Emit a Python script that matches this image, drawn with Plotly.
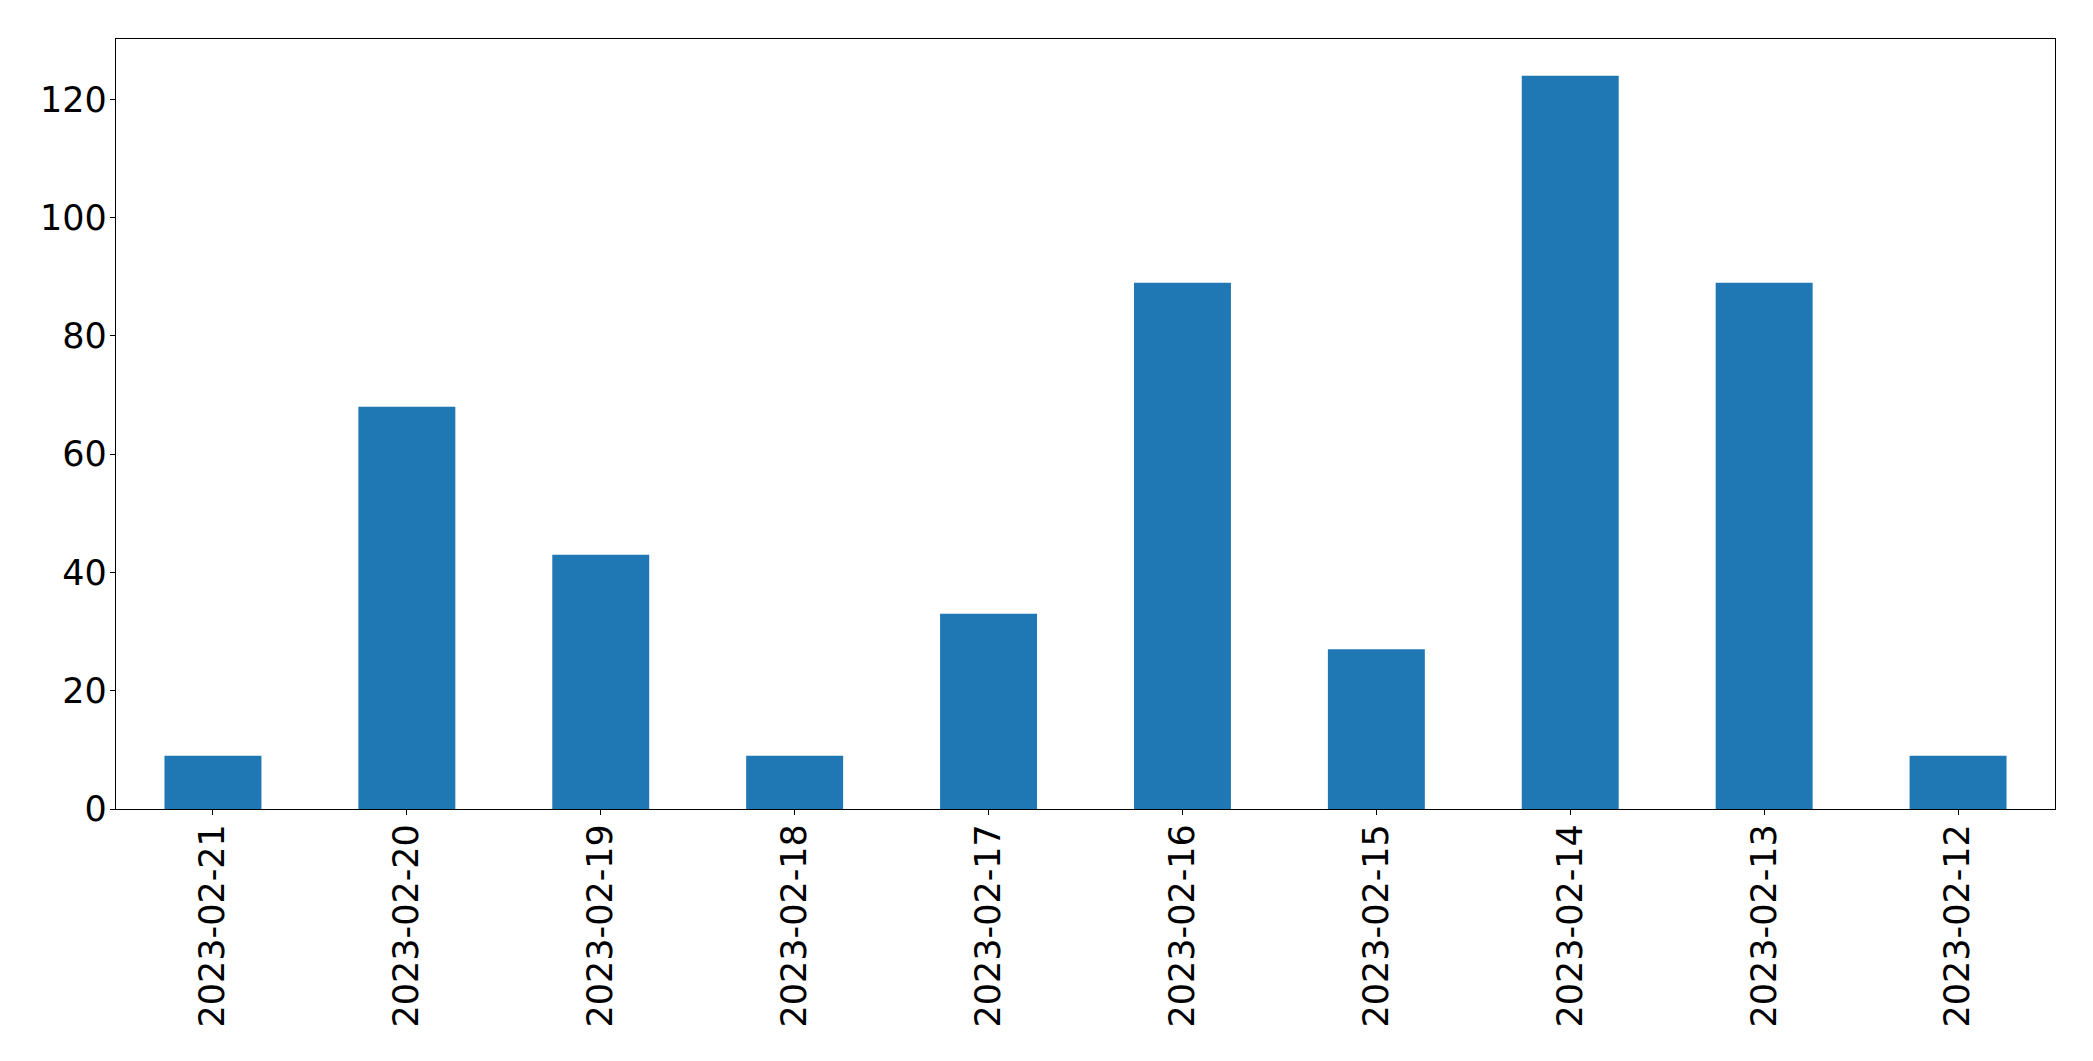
import plotly.graph_objects as go

dates = ["2023-02-21", "2023-02-20", "2023-02-19", "2023-02-18", "2023-02-17",
         "2023-02-16", "2023-02-15", "2023-02-14", "2023-02-13", "2023-02-12"]
counts = [9, 68, 43, 9, 33, 89, 27, 124, 89, 9]
y_ticks = [0, 20, 40, 60, 80, 100, 120]

fig = go.Figure(go.Bar(x=dates, y=counts, marker_color="#1f77b4",
                       marker_line_width=0, width=0.5))

axis_common = dict(showline=True, linecolor="black", linewidth=1.3, mirror=True,
                   showgrid=False, zeroline=False, ticks="outside", ticklen=5,
                   tickcolor="black", tickwidth=1.3,
                   tickfont=dict(family="DejaVu Sans", size=35, color="black"),
                   automargin=False)

fig.update_layout(
    width=2093, height=1061,
    margin=dict(l=108, r=46, t=31, b=260),
    paper_bgcolor="white", plot_bgcolor="white",
    showlegend=False,
    xaxis=dict(type="category", range=[-0.5, 9.5], tickangle=-90,
               ticklabelstandoff=-5, **axis_common),
    yaxis=dict(range=[0, 130.2], tickvals=y_ticks, ticklabelstandoff=-4,
               **axis_common),
)

fig.write_html("out.html")
